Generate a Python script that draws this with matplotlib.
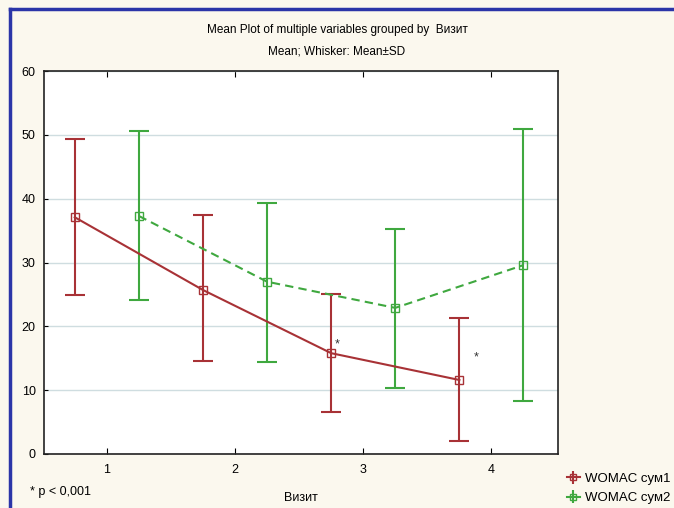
import numpy as np
import matplotlib.pyplot as plt
from matplotlib.lines import Line2D

plt.rcParams['font.family'] = ['Liberation Sans', 'DejaVu Sans']

visits = [1, 2, 3, 4]
# WOMAC sum 1 (red) and sum 2 (green): mean and mean±SD bounds
mean1 = [37.1, 25.7, 15.8, 11.6]
upper1 = [49.4, 37.5, 25.1, 21.3]
lower1 = [24.9, 14.6, 6.6, 2.0]
mean2 = [37.3, 27.0, 22.9, 29.6]
upper2 = [50.6, 39.3, 35.3, 50.9]
lower2 = [24.1, 14.4, 10.3, 8.3]
star_x = [2.78, 3.86]
star_y = [16.3, 14.2]

red = '#a83236'
green = '#3fa83f'

fig = plt.figure(figsize=[6.74, 5.08], dpi=100, facecolor='#fbf8ee')
ax = fig.add_axes([0.0653, 0.1063, 0.7627, 0.7537])
ax.set_facecolor('white')

x = np.array(visits, dtype=float)
m1, m2 = np.array(mean1), np.array(mean2)
err1 = [m1 - np.array(lower1), np.array(upper1) - m1]
err2 = [m2 - np.array(lower2), np.array(upper2) - m2]

ax.errorbar(x - 0.25, m1, yerr=err1, color=red, lw=1.5, ls='-', marker='s',
            mfc='none', mec=red, ms=6, capsize=7, elinewidth=1.5, capthick=1.5, zorder=3)
ax.errorbar(x + 0.25, m2, yerr=err2, color=green, lw=1.5, ls=(0, (4, 2.5)), marker='s',
            mfc='none', mec=green, ms=6, capsize=7, elinewidth=1.5, capthick=1.5, zorder=3)

# legend proxies with narrower caps
p1 = ax.errorbar([], [], yerr=[], color=red, lw=1.5, marker='s', mfc='none', ms=5,
                 capsize=3.5, capthick=1.5)
p2 = ax.errorbar([], [], yerr=[], color=green, lw=1.5, marker='s', mfc='none', ms=5,
                 capsize=3.5, capthick=1.5)

for sx, sy in zip(star_x, star_y):
    ax.text(sx, sy, '*', fontsize=9, ha='left', va='bottom', color='#333333')

ax.set_xlim(0.51, 4.52)
ax.set_ylim(0, 60)
ax.set_xticks(visits)
ax.set_yticks(range(0, 61, 10))
ax.yaxis.grid(True, color='#cfdde0', lw=1)
ax.set_axisbelow(True)
ax.tick_params(axis='x', direction='in', top=True, length=4, labelsize=9, pad=7)
ax.tick_params(axis='y', direction='in', length=3, labelsize=9, pad=6)
for s in ax.spines.values():
    s.set_color('#222222')
    s.set_linewidth(1.2)

ax.set_xlabel('Визит', fontsize=9, labelpad=12)
fig.text(0.5, 0.941, 'Mean Plot of multiple variables grouped by  Визит', ha='center', va='center', fontsize=8.5)
fig.text(0.5, 0.898, 'Mean; Whisker: Mean±SD', ha='center', va='center', fontsize=8.5)
fig.text(0.045, 0.031, '* p < 0,001', ha='left', va='center', fontsize=9)

fig.legend([p1, p2], ['WOMAC сум1', 'WOMAC сум2'], loc='lower left',
           bbox_to_anchor=(0.823, -0.016), frameon=False, fontsize=9.5,
           handlelength=1.0, handletextpad=0.4, labelspacing=0.55)

# blue border on left and top
fig.add_artist(Line2D([0.0148, 0.0148], [0, 0.983], color='#2b35a8', lw=2.5))
fig.add_artist(Line2D([0.0148, 1], [0.983, 0.983], color='#2b35a8', lw=2.5))

plt.savefig('out.png', dpi=100, facecolor=fig.get_facecolor())
